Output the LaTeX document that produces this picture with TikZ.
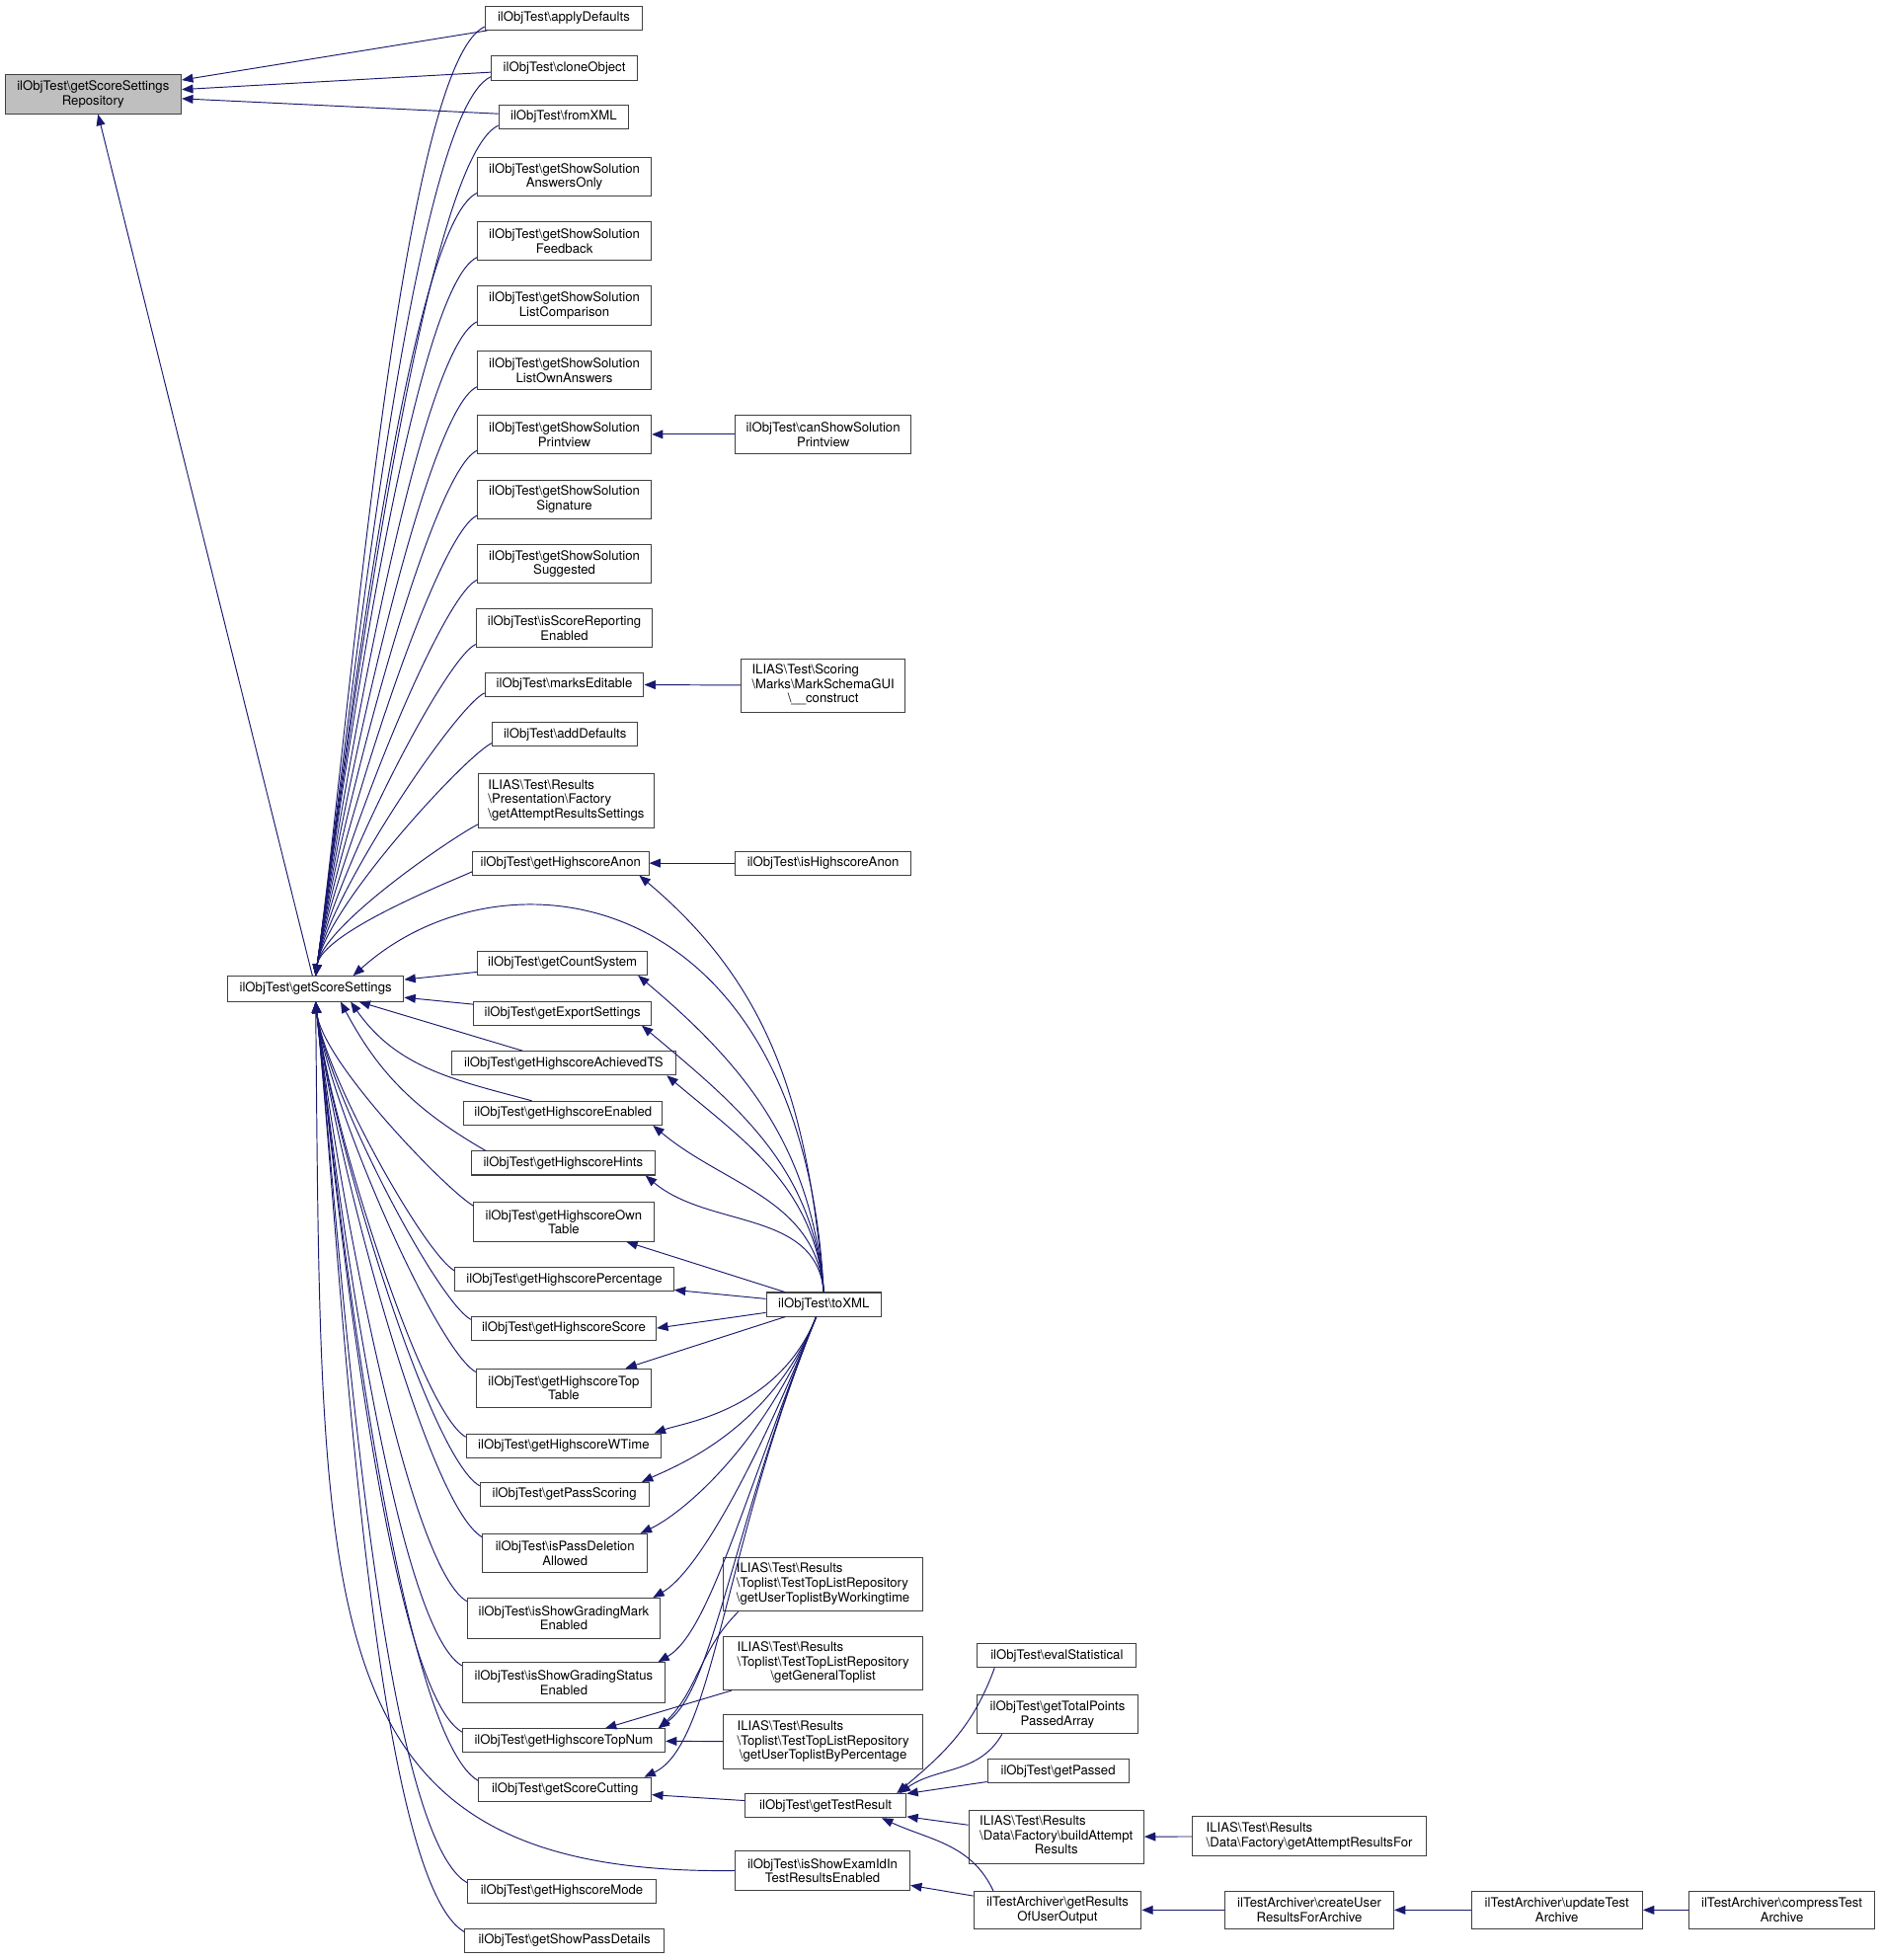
\documentclass[tikz,border=0pt]{standalone}
\usepackage{fontspec}
\setmainfont{TeX Gyre Heros}
\usetikzlibrary{arrows.meta}
\definecolor{edgeblue}{HTML}{191970}
\newcommand{\bsl}{\textbackslash}
\newcommand{\nslabel}[3]{\begin{tabular}{@{}l@{}}#1\\#2\\\multicolumn{1}{@{}c@{}}{#3}\end{tabular}}

\begin{document}
\begin{tikzpicture}[x=1pt, y=1pt,
    fn/.style={draw=black!75, line width=0.8pt, fill=white, inner sep=1pt,
        font=\fontsize{10.4}{11.5}\selectfont, align=center, minimum height=19pt},
    two/.style={minimum height=31pt},
    three/.style={minimum height=43pt},
    call/.style={draw=edgeblue, line width=0.75pt, -{Triangle[length=9pt, width=7pt]}}]
    \path[use as bounding box, fill=white] (0,0) rectangle (1505,-1568);

    \node[fn, two, fill=gray!50, minimum width=141pt] (repo) at (74.5,-75.5) {ilObjTest\bsl getScoreSettings\\Repository};
    \node[fn, minimum width=141pt, minimum height=20pt] (gss) at (252.5,-791) {ilObjTest\bsl getScoreSettings};

    \node[fn, minimum width=126pt] (apply) at (451,-14.5) {ilObjTest\bsl applyDefaults};
    \node[fn, minimum width=117pt] (clone) at (451.5,-54.5) {ilObjTest\bsl cloneObject};
    \node[fn, minimum width=104pt] (fromxml) at (451,-93.5) {ilObjTest\bsl fromXML};
    \node[fn, two, minimum width=139pt] (ans) at (451.5,-141.5) {ilObjTest\bsl getShowSolution\\AnswersOnly};
    \node[fn, two, minimum width=139pt] (feed) at (451.5,-193) {ilObjTest\bsl getShowSolution\\Feedback};
    \node[fn, two, minimum width=139pt] (listcmp) at (451.5,-244.5) {ilObjTest\bsl getShowSolution\\ListComparison};
    \node[fn, two, minimum width=139pt] (listown) at (451.5,-296.5) {ilObjTest\bsl getShowSolution\\ListOwnAnswers};
    \node[fn, two, minimum width=139pt] (print) at (451.5,-347.5) {ilObjTest\bsl getShowSolution\\Printview};
    \node[fn, two, minimum width=139pt] (sig) at (451.5,-399.5) {ilObjTest\bsl getShowSolution\\Signature};
    \node[fn, two, minimum width=139pt] (sugg) at (451.5,-451) {ilObjTest\bsl getShowSolution\\Suggested};
    \node[fn, two, minimum width=141pt] (report) at (451.5,-502.5) {ilObjTest\bsl isScoreReporting\\Enabled};
    \node[fn, minimum width=127pt] (marks) at (451.5,-547.5) {ilObjTest\bsl marksEditable};
    \node[fn, minimum width=116pt] (adddef) at (452,-587.5) {ilObjTest\bsl addDefaults};
    \node[fn, three, minimum width=140pt] (attset) at (453,-640.5)
        {\nslabel{ILIAS\bsl Test\bsl Results}{\bsl Presentation\bsl Factory}{\bsl getAttemptResultsSettings}};
    \node[fn, minimum width=141pt] (hsanon) at (448.5,-690.5) {ilObjTest\bsl getHighscoreAnon};
    \node[fn, minimum width=136pt] (count) at (450,-770.5) {ilObjTest\bsl getCountSystem};
    \node[fn, minimum width=142pt] (export) at (450,-810.5) {ilObjTest\bsl getExportSettings};
    \node[fn, minimum width=180pt] (achts) at (451,-850.5) {ilObjTest\bsl getHighscoreAchievedTS};
    \node[fn, minimum width=159pt] (hsenabled) at (450.5,-890.5) {ilObjTest\bsl getHighscoreEnabled};
    \node[fn, minimum width=147pt] (hints) at (450.5,-930.5) {ilObjTest\bsl getHighscoreHints};
    \node[fn, two, minimum width=144pt] (owntab) at (451,-977.5) {ilObjTest\bsl getHighscoreOwn\\Table};
    \node[fn, minimum width=175pt] (perc) at (451.5,-1023.5) {ilObjTest\bsl getHighscorePercentage};
    \node[fn, minimum width=148pt] (hsscore) at (451,-1062.5) {ilObjTest\bsl getHighscoreScore};
    \node[fn, two, minimum width=140pt] (toptab) at (451,-1110.5) {ilObjTest\bsl getHighscoreTop\\Table};
    \node[fn, minimum width=156pt] (wtime) at (451,-1156.5) {ilObjTest\bsl getHighscoreWTime};
    \node[fn, minimum width=135pt] (passsc) at (451.5,-1195.5) {ilObjTest\bsl getPassScoring};
    \node[fn, two, minimum width=132pt] (passdel) at (452,-1242.5) {ilObjTest\bsl isPassDeletion\\Allowed};
    \node[fn, minimum height=32pt, minimum width=154pt] (gmark) at (451,-1294.5) {ilObjTest\bsl isShowGradingMark\\Enabled};
    \node[fn, minimum height=32pt, minimum width=162pt] (gstatus) at (451,-1346) {ilObjTest\bsl isShowGradingStatus\\Enabled};
    \node[fn, minimum width=162pt] (topnum) at (451,-1392.5) {ilObjTest\bsl getHighscoreTopNum};
    \node[fn, minimum width=138pt] (cutting) at (452,-1431.5) {ilObjTest\bsl getScoreCutting};
    \node[fn, minimum width=151pt] (hsmode) at (449.5,-1513) {ilObjTest\bsl getHighscoreMode};
    \node[fn, minimum width=159pt] (passdet) at (451.5,-1552.5) {ilObjTest\bsl getShowPassDetails};

    \node[fn, two, minimum width=141pt] (canprint) at (658.5,-347.5) {ilObjTest\bsl canShowSolution\\Printview};
    \node[fn, three, minimum width=131pt] (markgui) at (658.5,-548.5)
        {\nslabel{ILIAS\bsl Test\bsl Scoring}{\bsl Marks\bsl MarkSchemaGUI}{\bsl\_\_construct}};
    \node[fn, minimum width=141pt] (isanon) at (658.5,-690.5) {ilObjTest\bsl isHighscoreAnon};
    \node[fn, minimum width=92pt] (toxml) at (659,-1043.5) {ilObjTest\bsl toXML};
    \node[fn, three, minimum width=159pt] (toplistwt) at (658.5,-1267.5)
        {\nslabel{ILIAS\bsl Test\bsl Results}{\bsl Toplist\bsl TestTopListRepository}{\bsl getUserToplistByWorkingtime}};
    \node[fn, three, minimum width=159pt] (toplistgen) at (658.5,-1330.5)
        {\nslabel{ILIAS\bsl Test\bsl Results}{\bsl Toplist\bsl TestTopListRepository}{\bsl getGeneralToplist}};
    \node[fn, three, minimum width=159pt] (toplistpct) at (658.5,-1393.5)
        {\nslabel{ILIAS\bsl Test\bsl Results}{\bsl Toplist\bsl TestTopListRepository}{\bsl getUserToplistByPercentage}};
    \node[fn, minimum width=129pt] (testres) at (660.5,-1444.5) {ilObjTest\bsl getTestResult};
    \node[fn, two, minimum width=140pt] (examid) at (658,-1496.5) {ilObjTest\bsl isShowExamIdIn\\TestResultsEnabled};

    \node[fn, minimum width=127pt] (evalstat) at (845.5,-1324.5) {ilObjTest\bsl evalStatistical};
    \node[fn, two, minimum width=128pt] (totalpts) at (846,-1371.5) {ilObjTest\bsl getTotalPoints\\PassedArray};
    \node[fn, minimum width=113pt] (passed) at (846.5,-1417) {ilObjTest\bsl getPassed};
    \node[fn, three, minimum width=140pt] (buildatt) at (845,-1469.5)
        {\nslabel{ILIAS\bsl Test\bsl Results}{\bsl Data\bsl Factory\bsl buildAttempt}{Results}};
    \node[fn, minimum height=30pt, minimum width=134pt] (resout) at (846,-1528) {ilTestArchiver\bsl getResults\\OfUserOutput};
    \node[fn, minimum height=32pt, minimum width=187pt, align=left] (getattfor) at (1047.5,-1469)
        {ILIAS\bsl Test\bsl Results\\\bsl Data\bsl Factory\bsl getAttemptResultsFor};
    \node[fn, minimum height=30pt, minimum width=135pt] (createuser) at (1047.5,-1528) {ilTestArchiver\bsl createUser\\ResultsForArchive};
    \node[fn, minimum height=30pt, minimum width=137pt] (update) at (1245.5,-1528) {ilTestArchiver\bsl updateTest\\Archive};
    \node[fn, minimum height=30pt, minimum width=149pt] (compress) at (1425.5,-1528) {ilTestArchiver\bsl compressTest\\Archive};

    \foreach \n in {apply, clone, fromxml, gss}
        \draw[call] (\n) -- (repo);

    \foreach \n in {apply, clone, fromxml, ans, feed, listcmp, listown, print, sig, sugg, report, marks, adddef, attset, hsanon}
        \draw[call] ([yshift=3pt]\n.south west) to[out=205, in=82, out looseness=0.25, in looseness=0.6] (gss.north);
    \draw[call] (toxml.north) .. controls +(93:330) and +(42:160) .. ([xshift=30pt]gss.north);
    \foreach \n in {count, export, achts}
        \draw[call] (\n) -- (gss);
    \draw[call] ([xshift=-25pt]hsenabled.north) to[out=165, in=-55] ([xshift=28pt]gss.south);
    \draw[call] ([xshift=12pt]hints.north west) to[out=150, in=-62] ([xshift=20pt]gss.south);
    \foreach \n in {owntab, perc, hsscore, toptab, wtime, passsc, passdel, gmark, gstatus, topnum, cutting, hsmode, passdet}
        \draw[call] ([yshift=-3pt]\n.north west) to[out=150, in=-84, out looseness=0.3, in looseness=0.6] (gss.south);
    \draw[call] (examid.west) .. controls +(-340,-4) and +(5,-500) .. (gss.south);

    \foreach \n in {hsanon, count, export, achts, hsenabled, hints}
        \draw[call] (toxml.north) to[out=95, in=-40] ([xshift=-8pt]\n.south east);
    \draw[call] (toxml) -- (owntab);
    \draw[call] (toxml) -- (perc);
    \draw[call] (toxml) -- (hsscore.east);
    \draw[call] (toxml) -- (toptab);
    \foreach \n/\a in {wtime/20, passsc/25, passdel/25, gmark/30, gstatus/30, topnum/35, cutting/25}
        \draw[call] ([xshift=-6pt]toxml.south) to[out=-112, in=\a, out looseness=1.3, in looseness=0.4] ([xshift=-6pt]\n.north east);

    \draw[call] (canprint) -- (print);
    \draw[call] (markgui) -- (marks);
    \draw[call] (isanon) -- (hsanon);
    \draw[call] ([xshift=12pt]toplistwt.south west) to[out=225, in=45] ([xshift=-5pt]topnum.north east);
    \draw[call] (toplistgen) -- (topnum);
    \draw[call] (toplistpct) -- (topnum);
    \draw[call] (testres) -- (cutting);
    \draw[call] ([xshift=14pt]evalstat.south west) to[out=-110, in=40] ([xshift=-8pt]testres.north east);
    \draw[call] ([xshift=20pt]totalpts.south west) to[out=-120, in=35] ([xshift=-6pt]testres.north east);
    \draw[call] (passed) -- (testres);
    \draw[call] (buildatt) -- (testres);
    \draw[call] ([xshift=16pt]resout.north west) to[out=115, in=-25] ([xshift=-20pt]testres.south east);
    \draw[call] (resout) -- (examid);
    \draw[call] (getattfor) -- (buildatt);
    \draw[call] (createuser) -- (resout);
    \draw[call] (update) -- (createuser);
    \draw[call] (compress) -- (update);
\end{tikzpicture}
\end{document}
